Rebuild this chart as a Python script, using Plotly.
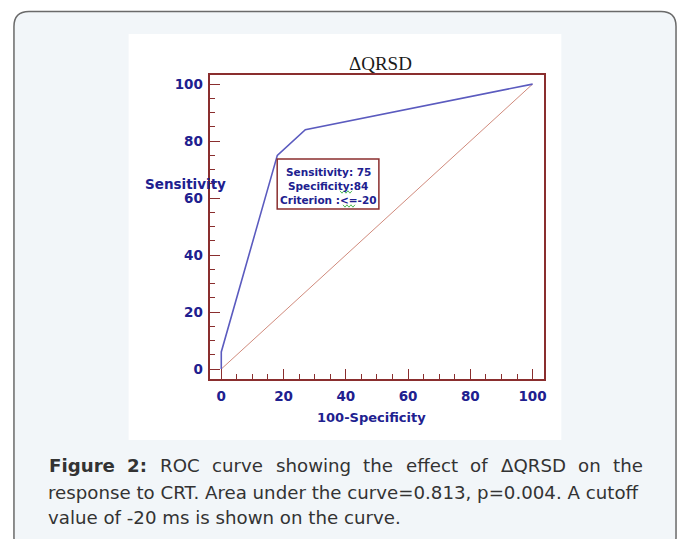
import plotly.graph_objects as go

W, H = 685, 539

# ---- data ----
roc_fpr = [0, 0, 18, 27, 100]          # 100-Specificity
roc_tpr = [0, 6, 75, 84, 100]          # Sensitivity
diag_x = [0, 100]
diag_y = [0, 100]
tick_vals = [0, 20, 40, 60, 80, 100]
tick_text = ["0", "20", "40", "60", "80", "100"]
box_lines = ["Sensitivity: 75", "Specificity:84", "Criterion :&lt;=-20"]
caption_line1 = ["Figure", "2:", "ROC", "curve", "showing", "the", "effect", "of", "\u0394QRSD", "on", "the"]
caption_line2 = "response to CRT. Area under the curve=0.813, p=0.004. A cutoff"
caption_line3 = "value of -20 ms is shown on the curve."

def px(x):
    return x / W

def py(y):
    return 1 - y / H

MAROON = "#8a2e2e"
NAVY = "#20208f"

fig = go.Figure()
fig.add_trace(go.Scatter(x=diag_x, y=diag_y, mode="lines",
                         line=dict(color="#d08a7c", width=1), hoverinfo="skip"))
fig.add_trace(go.Scatter(x=roc_fpr, y=roc_tpr, mode="lines",
                         line=dict(color="#5b5bbf", width=1.6), hoverinfo="skip"))

axis_common = dict(
    showgrid=False, zeroline=False, showline=True, linecolor=MAROON, linewidth=1.6,
    mirror=True, ticks="inside", ticklen=10, tickwidth=1.4, tickcolor=MAROON,
    tickvals=tick_vals, ticktext=tick_text,
    tickfont=dict(family="DejaVu Sans", size=13.5, color=NAVY, weight="bold"),
    minor=dict(dtick=5, tick0=0, ticks="inside", ticklen=5, tickwidth=1.2, tickcolor=MAROON),
)

fig.update_layout(
    width=W, height=H, margin=dict(l=0, r=0, t=0, b=0),
    paper_bgcolor="white", plot_bgcolor="white", showlegend=False,
    xaxis=dict(domain=[px(211), px(546)], range=[-3.5, 103.8], ticklabelstandoff=4, **axis_common),
    yaxis=dict(domain=[py(379), py(75)], range=[-3.5, 103.2], ticklabelstandoff=3, **axis_common),
)

# outer rounded panel
x0, x1, y0, y1, r = px(14), px(678), py(11.5), py(552), 15
rx, ry = r / W, r / H
path = (f"M {x0+rx},{y0} L {x1-rx},{y0} Q {x1},{y0} {x1},{y0-ry} "
        f"L {x1},{y1+ry} Q {x1},{y1} {x1-rx},{y1} L {x0+rx},{y1} Q {x0},{y1} {x0},{y1+ry} "
        f"L {x0},{y0-ry} Q {x0},{y0} {x0+rx},{y0} Z")
fig.add_shape(type="path", xref="paper", yref="paper", path=path,
              fillcolor="#f2f6f9", line=dict(color="#6a6a6a", width=1.5), layer="below")
# white figure panel
fig.add_shape(type="rect", xref="paper", yref="paper",
              x0=px(129), x1=px(563), y0=py(440), y1=py(34),
              fillcolor="white", line=dict(width=0), layer="below")
# criterion box
fig.add_shape(type="rect", xref="paper", yref="paper",
              x0=px(278), x1=px(380), y0=py(209), y1=py(159),
              fillcolor="white", line=dict(color=MAROON, width=1.5))

# green spell-check squiggles
def squiggle(xa, xb, yy):
    pts = []
    n = int((xb - xa) / 2)
    for k in range(n + 1):
        pts.append((xa + 2 * k, yy + (1.2 if k % 2 else -1.2)))
    return "M " + " L ".join(f"{px(a)},{py(b)}" for a, b in pts)

for (xa, xb, yy) in [(341, 354, 192), (344, 357, 206)]:
    fig.add_shape(type="path", xref="paper", yref="paper", path=squiggle(xa, xb, yy),
                  line=dict(color="#3cb043", width=0.9))

ann = []
ann.append(dict(text="\u0394QRSD", x=px(382), y=py(63), xref="paper", yref="paper",
                showarrow=False, xanchor="center", yanchor="middle",
                font=dict(family="Liberation Serif", size=19, color="#1a1a1a")))
ann.append(dict(text="Sensitivity", x=px(186), y=py(184), xref="paper", yref="paper",
                showarrow=False, xanchor="center", yanchor="middle",
                font=dict(family="DejaVu Sans", size=13.5, color=NAVY, weight="bold")))
ann.append(dict(text="100-Specificity", x=px(373), y=py(417), xref="paper", yref="paper",
                showarrow=False, xanchor="center", yanchor="middle",
                font=dict(family="DejaVu Sans", size=13, color=NAVY, weight="bold")))
for i, t in enumerate(box_lines):
    ann.append(dict(text=t, x=px(329), y=py(172 + 14 * i), xref="paper", yref="paper",
                    showarrow=False, xanchor="center", yanchor="middle",
                    font=dict(family="DejaVu Sans", size=10.5, color=NAVY, weight="bold")))

# justified first caption line (approximate DejaVu Sans advance widths, em units)
REG = {"R": .695, "O": .787, "C": .698, "c": .550, "u": .634, "r": .411, "v": .592,
       "e": .615, "s": .521, "h": .634, "o": .612, "w": .818, "i": .278, "n": .634,
       "g": .635, "t": .392, "f": .352, "\u0394": .684, "Q": .787, "S": .635, "D": .770}
BOLD = {"F": .686, "i": .343, "g": .716, "u": .712, "r": .493, "e": .678, "2": .696, ":": .400}
CAP_SIZE = 18.2
cap_font = dict(family="DejaVu Sans", size=CAP_SIZE, color="#333333")
line_left, line_right = 47, 643
widths = []
for i, w in enumerate(caption_line1):
    tbl = BOLD if i < 2 else REG
    widths.append(sum(tbl.get(ch, .6) for ch in w) * CAP_SIZE)
gap = (line_right - line_left - sum(widths)) / (len(widths) - 1)
xpos = line_left
for i, (w, wd) in enumerate(zip(caption_line1, widths)):
    txt = f"<b>{w}</b>" if i < 2 else w
    ann.append(dict(text=txt, x=px(xpos), y=py(465), xref="paper", yref="paper",
                    showarrow=False, xanchor="left", yanchor="middle", font=cap_font))
    xpos += wd + gap
ann.append(dict(text=caption_line2, x=px(46), y=py(492), xref="paper", yref="paper",
                showarrow=False, xanchor="left", yanchor="middle", font=cap_font))
ann.append(dict(text=caption_line3, x=px(46), y=py(517), xref="paper", yref="paper",
                showarrow=False, xanchor="left", yanchor="middle", font=cap_font))
fig.update_layout(annotations=ann)

fig.write_html("out.html", config={"displayModeBar": False},
               post_script="document.body.style.margin='0';")
